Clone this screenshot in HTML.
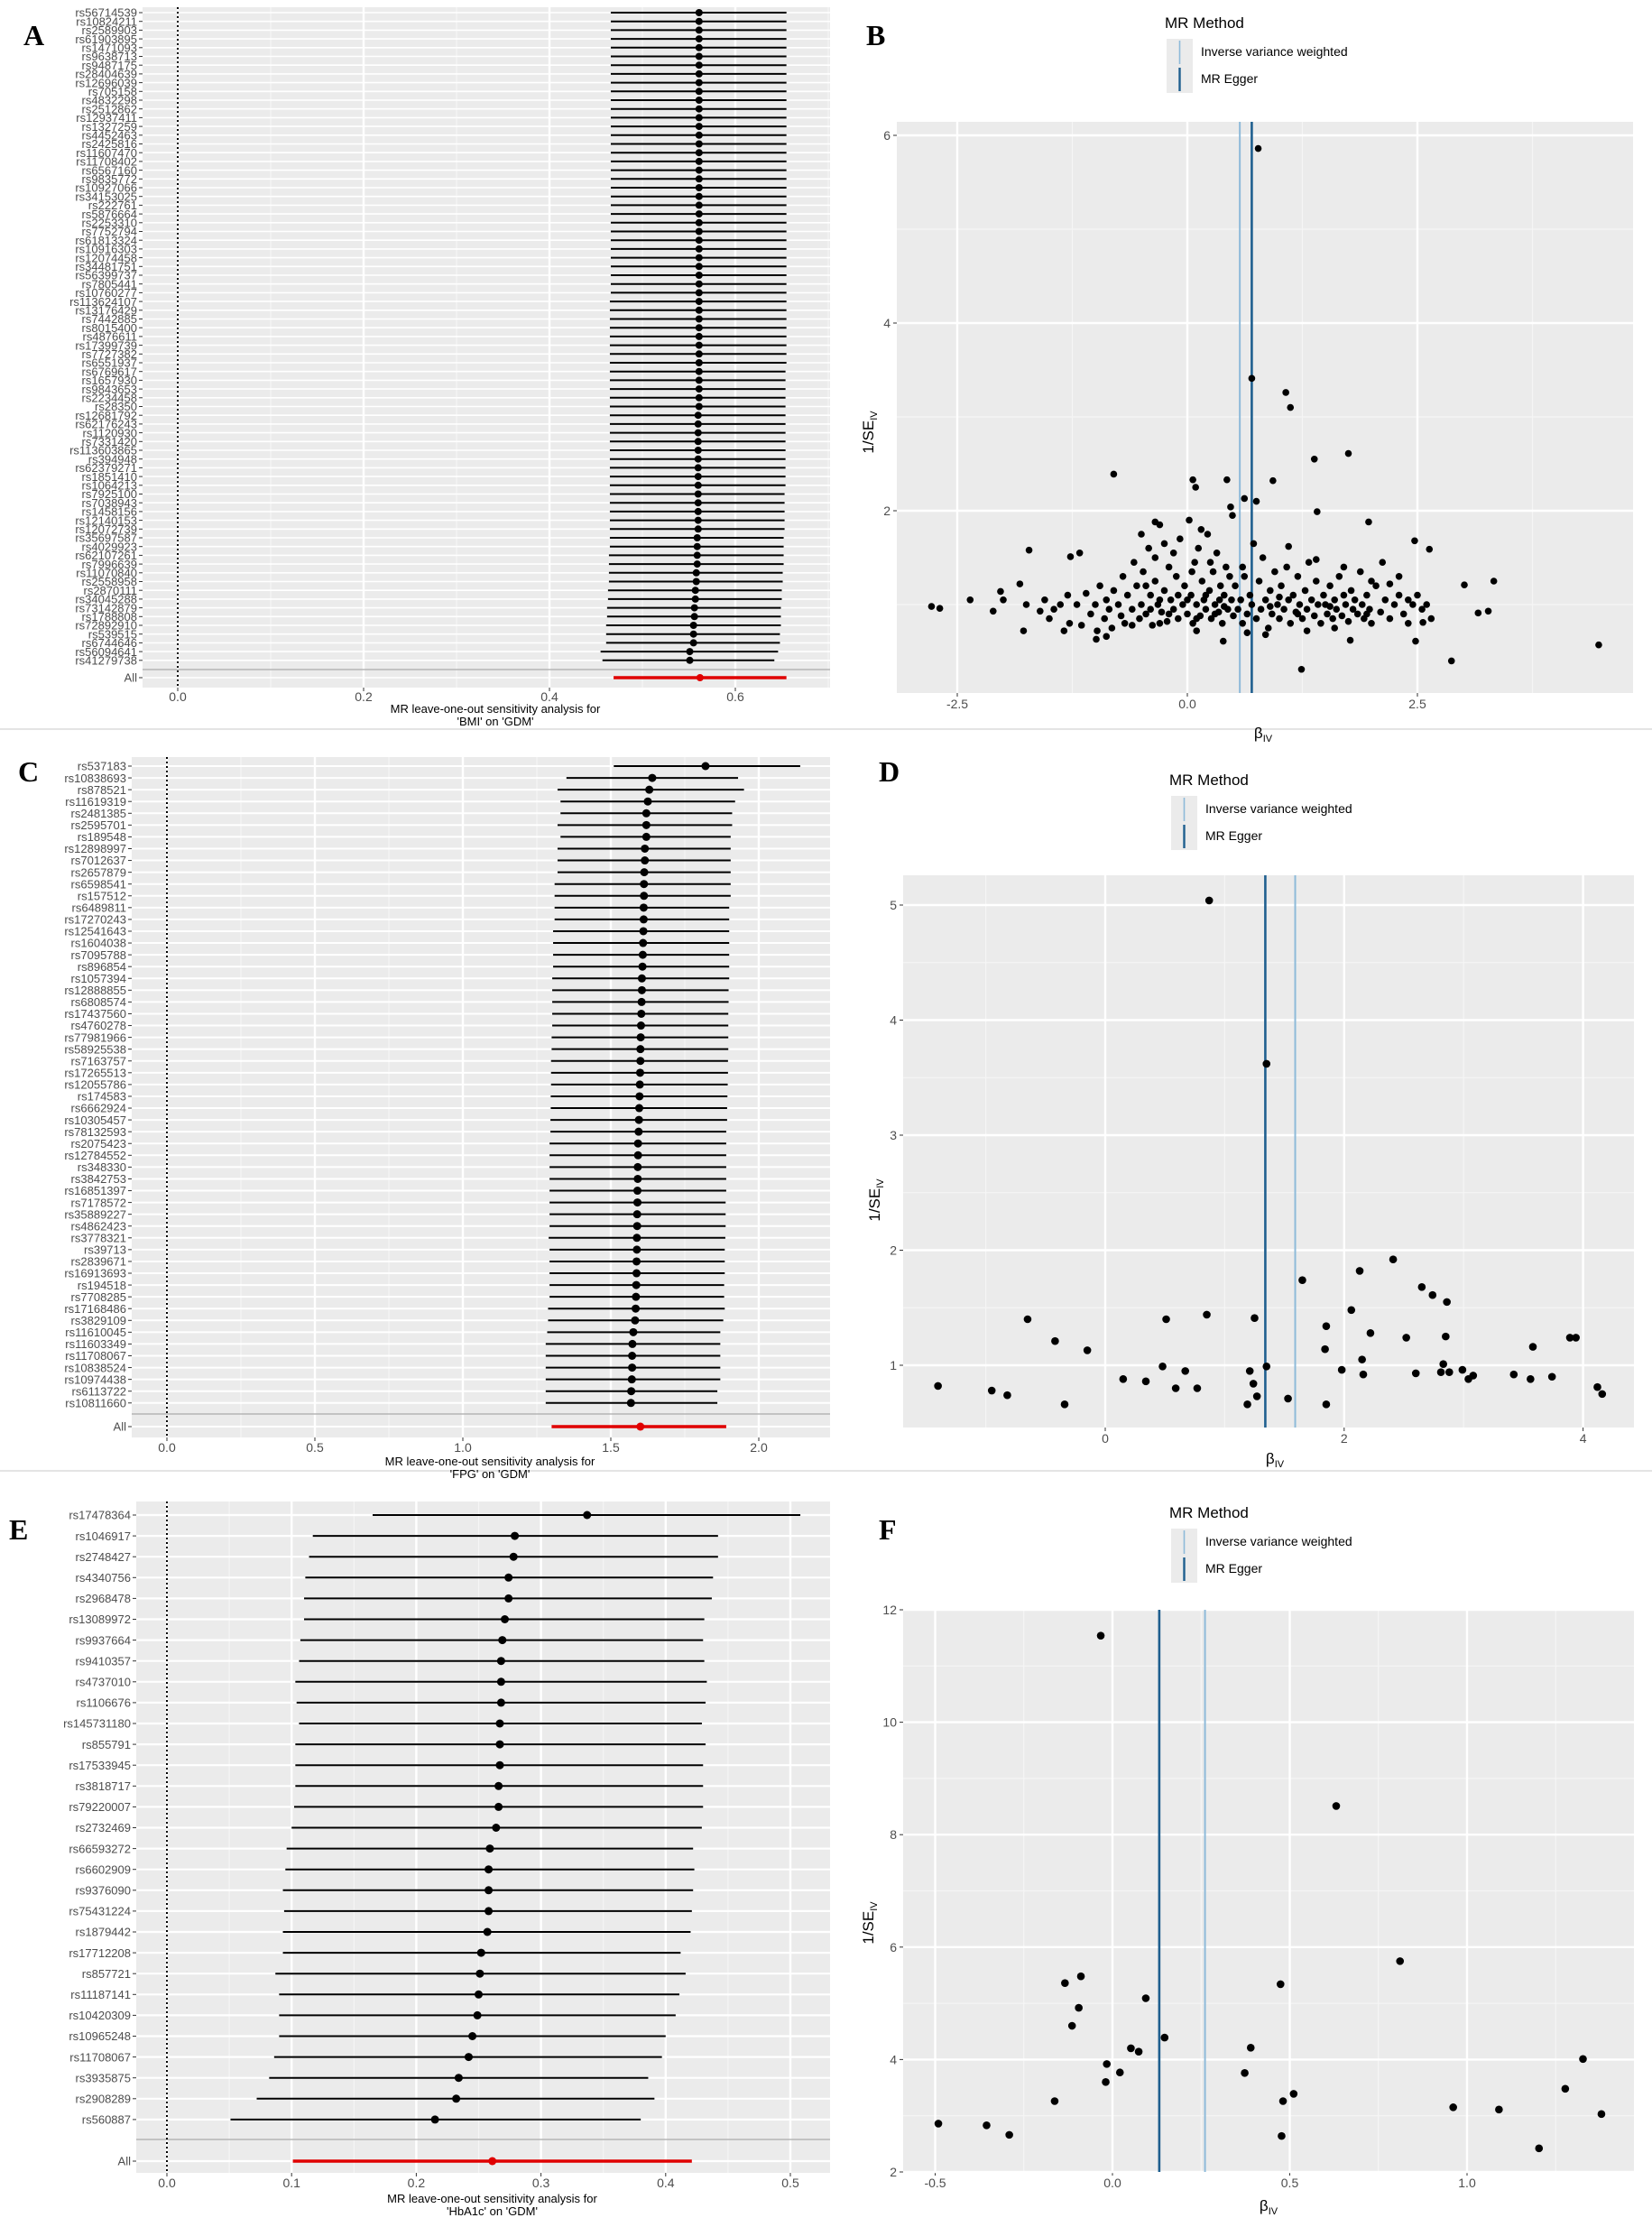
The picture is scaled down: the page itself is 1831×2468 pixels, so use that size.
<!DOCTYPE html>
<html><head><meta charset="utf-8"><style>
html,body{margin:0;padding:0;background:#fff}
svg{display:block;font-family:"Liberation Sans",Arial,sans-serif}
.pl{font-family:"Liberation Serif",serif;font-weight:bold;font-size:32px}
</style></head><body>
<svg id="fig" width="1831" height="2468" viewBox="0 0 1831 2468" xmlns="http://www.w3.org/2000/svg">
<line x1="0" y1="808" x2="1831" y2="808" stroke="#e4e4e4" stroke-width="2"/>
<line x1="0" y1="1630" x2="1831" y2="1630" stroke="#e4e4e4" stroke-width="2"/>
<text class="pl" x="26" y="50">A</text>
<text class="pl" x="960" y="50">B</text>
<text class="pl" x="20" y="866">C</text>
<text class="pl" x="974" y="866">D</text>
<text class="pl" x="10" y="1706">E</text>
<text class="pl" x="974" y="1706">F</text>
</svg>
<script>
// ---------- Panel A data ----------
const namesA = ["rs56714539","rs10824211","rs2589903","rs61903895","rs1471093","rs9638713","rs9487175","rs28404639","rs12696039","rs705158","rs4832298","rs2512862","rs12937411","rs1327259","rs4452463","rs2425816","rs11607470","rs11708402","rs6567160","rs9835772","rs10927066","rs34153025","rs222761","rs5876664","rs2253310","rs7752794","rs61813324","rs10916303","rs12074458","rs34481751","rs56399737","rs7805441","rs10760277","rs113624107","rs13176429","rs7442885","rs8015400","rs4876611","rs17399739","rs7727382","rs6551937","rs6769617","rs1657930","rs9843653","rs2234458","rs28350","rs12681792","rs62176243","rs1120930","rs7331420","rs113603865","rs394948","rs62379271","rs1851410","rs1064213","rs7925100","rs7038943","rs1458156","rs12140153","rs12072739","rs35697587","rs4029923","rs62107261","rs7996639","rs11070840","rs2558958","rs2870111","rs34045288","rs73142879","rs1788808","rs72892910","rs539515","rs6744646","rs56094641","rs41279738"];
const estA = [0.561,0.561,0.561,0.561,0.561,0.561,0.561,0.561,0.561,0.561,0.561,0.561,0.561,0.561,0.561,0.561,0.561,0.561,0.561,0.561,0.561,0.561,0.561,0.561,0.561,0.561,0.561,0.561,0.561,0.561,0.561,0.561,0.561,0.561,0.561,0.561,0.561,0.561,0.561,0.561,0.561,0.561,0.561,0.561,0.561,0.561,0.560,0.560,0.560,0.560,0.560,0.560,0.560,0.560,0.560,0.560,0.560,0.560,0.560,0.560,0.559,0.559,0.559,0.559,0.558,0.558,0.557,0.557,0.556,0.556,0.555,0.555,0.555,0.551,0.551];
const loA = [0.466,0.466,0.466,0.466,0.466,0.466,0.466,0.466,0.466,0.466,0.466,0.466,0.466,0.466,0.466,0.466,0.466,0.466,0.466,0.466,0.466,0.466,0.466,0.466,0.466,0.466,0.466,0.466,0.466,0.466,0.466,0.466,0.466,0.465,0.465,0.465,0.465,0.465,0.465,0.465,0.465,0.465,0.465,0.465,0.465,0.465,0.465,0.465,0.465,0.465,0.465,0.465,0.465,0.465,0.465,0.465,0.465,0.465,0.465,0.465,0.465,0.465,0.464,0.464,0.464,0.464,0.463,0.463,0.462,0.462,0.461,0.461,0.461,0.455,0.457];
const hiA = [0.655,0.655,0.655,0.655,0.655,0.655,0.655,0.655,0.655,0.655,0.655,0.655,0.655,0.655,0.655,0.655,0.655,0.655,0.655,0.655,0.655,0.655,0.655,0.655,0.655,0.655,0.655,0.655,0.655,0.655,0.655,0.655,0.655,0.655,0.655,0.655,0.655,0.655,0.655,0.655,0.655,0.654,0.654,0.654,0.654,0.654,0.654,0.654,0.654,0.654,0.654,0.654,0.654,0.654,0.654,0.653,0.653,0.653,0.653,0.653,0.652,0.652,0.652,0.652,0.651,0.651,0.650,0.650,0.649,0.649,0.649,0.648,0.648,0.646,0.642];
const allA = [0.562,0.469,0.655];
const ticksA = [0,0.2,0.4,0.6];
const tickLabelsA = ["0.0","0.2","0.4","0.6"];

// ---------- Panel C data ----------
const namesC = ["rs537183","rs10838693","rs878521","rs11619319","rs2481385","rs2595701","rs189548","rs12898997","rs7012637","rs2657879","rs6598541","rs157512","rs6489811","rs17270243","rs12541643","rs1604038","rs7095788","rs896854","rs1057394","rs12888855","rs6808574","rs17437560","rs4760278","rs77981966","rs58925538","rs7163757","rs17265513","rs12055786","rs174583","rs6662924","rs10305457","rs78132593","rs2075423","rs12784552","rs348330","rs3842753","rs16851397","rs7178572","rs35889227","rs4862423","rs3778321","rs39713","rs2839671","rs16913693","rs194518","rs7708285","rs17168486","rs3829109","rs11610045","rs11603349","rs11708067","rs10838524","rs10974438","rs6113722","rs10811660"];
const estC = [1.82,1.64,1.63,1.625,1.62,1.62,1.62,1.615,1.615,1.613,1.612,1.612,1.611,1.611,1.61,1.609,1.608,1.607,1.605,1.605,1.604,1.603,1.602,1.601,1.6,1.6,1.599,1.598,1.597,1.596,1.595,1.594,1.592,1.592,1.591,1.591,1.59,1.59,1.589,1.589,1.588,1.588,1.587,1.587,1.586,1.585,1.584,1.582,1.576,1.573,1.572,1.572,1.571,1.569,1.568];
const loC = [1.51,1.35,1.32,1.33,1.33,1.32,1.33,1.32,1.32,1.32,1.31,1.31,1.31,1.31,1.305,1.305,1.305,1.305,1.302,1.302,1.302,1.302,1.302,1.3,1.3,1.298,1.298,1.298,1.297,1.297,1.296,1.296,1.293,1.293,1.293,1.293,1.293,1.293,1.293,1.293,1.29,1.293,1.293,1.293,1.293,1.293,1.288,1.288,1.285,1.28,1.28,1.28,1.28,1.28,1.28];
const hiC = [2.14,1.93,1.95,1.92,1.91,1.91,1.905,1.905,1.905,1.905,1.905,1.905,1.9,1.9,1.9,1.9,1.9,1.9,1.9,1.898,1.898,1.897,1.897,1.897,1.897,1.896,1.896,1.895,1.894,1.893,1.893,1.89,1.89,1.89,1.89,1.89,1.89,1.888,1.888,1.888,1.887,1.885,1.885,1.885,1.883,1.883,1.885,1.88,1.87,1.87,1.87,1.87,1.87,1.86,1.86];
const allC = [1.60,1.30,1.89];
const ticksC = [0,0.5,1.0,1.5,2.0];
const tickLabelsC = ["0.0","0.5","1.0","1.5","2.0"];

// ---------- Panel E data ----------
const namesE = ["rs17478364","rs1046917","rs2748427","rs4340756","rs2968478","rs13089972","rs9937664","rs9410357","rs4737010","rs1106676","rs145731180","rs855791","rs17533945","rs3818717","rs79220007","rs2732469","rs66593272","rs6602909","rs9376090","rs75431224","rs1879442","rs17712208","rs857721","rs11187141","rs10420309","rs10965248","rs11708067","rs3935875","rs2908289","rs560887"];
const estE = [0.337,0.279,0.278,0.274,0.274,0.271,0.269,0.268,0.268,0.268,0.267,0.267,0.267,0.266,0.266,0.264,0.259,0.258,0.258,0.258,0.257,0.252,0.251,0.250,0.249,0.245,0.242,0.234,0.232,0.215];
const loE = [0.165,0.117,0.114,0.111,0.110,0.110,0.107,0.106,0.103,0.104,0.106,0.103,0.103,0.103,0.102,0.100,0.096,0.095,0.093,0.094,0.093,0.093,0.087,0.090,0.090,0.090,0.086,0.082,0.072,0.051];
const hiE = [0.508,0.442,0.442,0.438,0.437,0.431,0.430,0.431,0.433,0.432,0.429,0.432,0.430,0.430,0.430,0.429,0.422,0.423,0.422,0.421,0.420,0.412,0.416,0.411,0.408,0.400,0.397,0.386,0.391,0.380];
const allE = [0.261,0.101,0.421];
const ticksE = [0,0.1,0.2,0.3,0.4,0.5];
const tickLabelsE = ["0.0","0.1","0.2","0.3","0.4","0.5"];

// ---------- Panel B data (beta, 1/SE) ----------
const pointsB = [[0.77,5.86],[0.70,3.41],[1.07,3.26],[1.12,3.10],[1.75,2.61],[1.38,2.55],[-0.80,2.39],[0.06,2.33],[0.43,2.33],[0.93,2.32],[0.09,2.25],[0.62,2.13],[0.75,2.10],[0.47,2.04],[1.41,1.99],[0.49,1.95],[1.97,1.88],[-0.35,1.88],[3.01,1.21],[3.33,1.25],[2.47,1.68],[2.63,1.59],[4.47,0.57],[2.87,0.40],[1.24,0.31],[-2.78,0.98],[-2.69,0.96],[-2.36,1.05],[-2.11,0.93],[-2.03,1.14],[-1.72,1.58],[-2.0,1.05],[-1.75,1.0],[-1.82,1.22],[-1.78,0.72],[3.27,0.93],[3.16,0.91],[2.48,0.61],[2.56,0.81],[1.77,0.62],[0.39,0.61],[-0.99,0.63],[-0.88,0.66],[-1.34,0.72],[-1.60,0.93],[-1.27,1.51],[-1.17,1.55],
[-1.55,1.05],[-1.5,0.85],[-1.45,0.95],[-1.38,1.0],[-1.3,1.1],[-1.28,0.8],[-1.2,1.0],[-1.15,0.78],[-1.1,1.12],[-1.05,0.9],[-1.0,1.0],[-0.98,0.72],[-0.95,1.2],[-0.9,0.85],[-0.88,1.05],[-0.85,0.95],[-0.82,0.75],[-0.8,1.15],[-0.75,1.0],[-0.72,0.88],[-0.7,1.3],[-0.68,0.8],[-0.65,1.1],[-0.6,0.95],[-0.58,1.45],[-0.55,1.2],[-0.52,0.85],[-0.5,1.0],[-0.5,1.75],[-0.48,1.35],
[-0.45,0.9],[-0.42,1.6],[-0.4,1.1],[-0.38,0.78],[-0.35,1.25],[-0.32,1.0],[-0.3,1.85],[-0.28,0.92],[-0.25,1.15],[-0.22,0.82],[-0.2,1.4],[-0.18,1.05],[-0.15,0.95],[-0.12,1.3],[-0.1,0.85],[-0.08,1.7],[-0.05,1.0],[-0.03,1.2],[0.0,0.9],[0.02,1.9],[0.04,1.1],[0.06,0.8],[0.08,1.45],[0.1,1.0],[0.12,1.6],[0.14,0.88],[0.16,1.25],[0.18,1.05],[0.2,0.95],[0.22,1.75],[0.24,1.15],[0.26,0.85],[0.28,1.35],[0.3,1.0],[0.32,1.55],[0.34,0.92],[0.36,1.2],[0.38,0.8],[0.4,1.1],[0.42,1.4],[0.44,0.95],[0.46,1.3],[0.48,1.05],[0.5,0.88],
[-0.4,0.95],[-0.3,1.05],[-0.2,0.9],[-0.1,1.1],[0.0,1.05],[0.1,0.85],[0.2,1.1],[0.3,0.9],[0.4,0.98],[-0.35,1.5],[-0.15,1.55],[0.05,1.35],[0.25,1.45],[0.15,1.8],[-0.25,1.65],[-0.6,0.78],[-0.3,0.8],[0.1,0.72],[-0.45,1.2],[0.35,1.05],
[0.52,1.2],[0.55,0.95],[0.58,1.05],[0.6,0.8],[0.62,1.3],[0.65,0.9],[0.68,1.1],[0.7,1.0],[0.72,1.65],[0.75,0.85],[0.78,1.25],[0.8,0.95],[0.82,1.5],[0.85,1.05],[0.88,0.75],[0.9,1.15],[0.92,0.9],[0.95,1.35],[0.98,1.0],[1.0,0.85],[1.02,1.2],[1.05,0.95],[1.08,1.4],[1.1,1.05],[1.12,0.8],[1.15,1.1],[1.18,0.92],[1.2,1.3],[1.22,1.0],[1.25,0.85],[1.28,1.15],[1.3,0.95],[1.32,1.45],[1.35,1.05],[1.38,0.88],[1.4,1.25],[1.42,1.0],[1.45,0.8],[1.48,1.1],[0.6,1.4],[0.9,0.98],[1.0,1.08],[1.2,0.9],[1.4,1.48],[1.1,1.62],[0.65,0.7],[0.85,0.68],[1.3,0.72],
[1.5,1.0],[1.52,0.9],[1.55,1.2],[1.58,0.85],[1.6,1.05],[1.62,0.95],[1.65,1.3],[1.68,0.88],[1.7,1.1],[1.72,1.0],[1.75,0.82],[1.78,1.15],[1.8,0.95],[1.82,1.05],[1.85,0.9],[1.88,1.35],[1.9,1.0],[1.92,0.85],[1.95,1.1],[1.98,0.95],[2.0,0.8],[2.05,1.2],[2.1,0.92],[2.12,1.45],[2.15,1.05],[2.2,0.85],[2.25,1.0],[2.3,1.1],[2.35,0.9],[2.4,0.8],[2.45,1.0],[2.5,1.1],[2.55,0.95],[2.6,1.0],[2.65,0.85],[1.7,1.4],[2.0,1.25],[2.3,1.3],[1.6,0.75],[2.2,1.22],[1.55,0.98],[1.95,0.9],[2.4,1.05]];
const ivwB = 0.57, eggerB = 0.70;

// ---------- Panel D data ----------
const pointsD = [[0.87,5.04],[1.35,3.62],[-1.40,0.82],[-0.95,0.78],[-0.82,0.74],[-0.65,1.40],[-0.42,1.21],[-0.34,0.66],[-0.15,1.13],[0.15,0.88],[0.34,0.86],[0.48,0.99],[0.51,1.40],[0.59,0.80],[0.67,0.95],[0.77,0.80],[0.85,1.44],[1.19,0.66],[1.21,0.95],[1.24,0.84],[1.25,1.41],[1.27,0.73],[1.35,0.99],[1.53,0.71],[1.65,1.74],[1.85,1.34],[1.84,1.14],[1.85,0.66],[1.98,0.96],[2.06,1.48],[2.13,1.82],[2.15,1.05],[2.16,0.92],[2.22,1.28],[2.41,1.92],[2.52,1.24],[2.60,0.93],[2.65,1.68],[2.74,1.61],[2.81,0.94],[2.83,1.01],[2.85,1.25],[2.86,1.55],[2.88,0.94],[2.99,0.96],[3.04,0.88],[3.08,0.91],[3.42,0.92],[3.56,0.88],[3.58,1.16],[3.74,0.90],[3.89,1.24],[3.94,1.24],[4.12,0.81],[4.16,0.75]];
const ivwD = 1.59, eggerD = 1.34;

// ---------- Panel F data ----------
const pointsF = [[-0.033,11.54],[0.631,8.51],[0.811,5.75],[0.474,5.34],[-0.089,5.48],[-0.134,5.36],[0.094,5.09],[-0.095,4.92],[-0.114,4.60],[0.147,4.39],[0.052,4.20],[0.074,4.14],[0.390,4.21],[-0.016,3.92],[0.021,3.77],[0.373,3.76],[-0.019,3.60],[-0.163,3.26],[0.481,3.26],[0.511,3.39],[0.477,2.64],[-0.491,2.86],[-0.355,2.83],[-0.291,2.66],[0.961,3.15],[1.090,3.11],[1.203,2.42],[1.277,3.48],[1.327,4.01],[1.379,3.03]];
const ivwF = 0.261, eggerF = 0.132;

const NS = "http://www.w3.org/2000/svg";
const svg = document.getElementById('fig');
function mk(tag, attrs, parent){
  const e = document.createElementNS(NS, tag);
  for (const k in attrs) e.setAttribute(k, attrs[k]);
  (parent||svg).appendChild(e);
  return e;
}
const BG="#EBEBEB", GRID="#FFFFFF", MINOR="#F5F5F5", TXT="#4D4D4D";

function forest(cfg){
  const g = mk('g', {});
  
  
  const x = v => cfg.x0 + v*cfg.xs;
  const rowY = i => cfg.y0 + i*cfg.dy;
  const bg = mk('rect', {x:cfg.l, y:cfg.t, width:cfg.r-cfg.l, height:cfg.b-cfg.t, fill:BG}, g);
  
  
  // minor x grid
  for (let i=0;i<cfg.ticks.length-1;i++){
    const m = (cfg.ticks[i]+cfg.ticks[i+1])/2;
    mk('line', {x1:x(m), x2:x(m), y1:cfg.t, y2:cfg.b, stroke:MINOR, 'stroke-width':1.2}, g);
  }
  const mEnd = cfg.ticks[cfg.ticks.length-1] + (cfg.ticks[1]-cfg.ticks[0])/2;
  if (x(mEnd) < cfg.r) mk('line', {x1:x(mEnd), x2:x(mEnd), y1:cfg.t, y2:cfg.b, stroke:MINOR, 'stroke-width':1.2}, g);
  // major x grid + tick labels
  cfg.ticks.forEach((tv,i)=>{
    mk('line', {x1:x(tv), x2:x(tv), y1:cfg.t, y2:cfg.b, stroke:GRID, 'stroke-width':2.4}, g);
    mk('line', {x1:x(tv), x2:x(tv), y1:cfg.b, y2:cfg.b+4, stroke:'#333', 'stroke-width':1}, g);
    const t = mk('text', {x:x(tv), y:cfg.b+cfg.tickDy, 'font-size':cfg.tfs, fill:TXT, 'text-anchor':'middle'}, g);
    t.textContent = cfg.tickLabels[i];
    
    
  });
  // row gridlines
  const allRows = cfg.names.length;
  for (let i=0;i<allRows;i++){
    mk('line', {x1:cfg.l, x2:cfg.r, y1:rowY(i), y2:rowY(i), stroke:GRID, 'stroke-width':cfg.rowGrid}, g);
  }
  mk('line', {x1:cfg.l, x2:cfg.r, y1:cfg.allY, y2:cfg.allY, stroke:GRID, 'stroke-width':cfg.rowGrid}, g);
  mk('line', {x1:cfg.l, x2:cfg.r, y1:cfg.sepY, y2:cfg.sepY, stroke:'#B5B5B5', 'stroke-width':1.5}, g);
  // zero dotted
  mk('line', {x1:x(0), x2:x(0), y1:cfg.t, y2:cfg.b, stroke:'#000', 'stroke-width':2, 'stroke-dasharray':'2,3'}, g);
  // rows
  cfg.names.forEach((n,i)=>{
    const y = rowY(i);
    const ln = mk('line', {x1:x(cfg.lo[i]), x2:x(cfg.hi[i]), y1:y, y2:y, stroke:'#000', 'stroke-width':cfg.lw}, g);
    
    
    const c = mk('circle', {cx:x(cfg.est[i]), cy:y, r:cfg.pr, fill:'#000'}, g);
    
    
    mk('line', {x1:cfg.l-4, x2:cfg.l, y1:y, y2:y, stroke:'#333', 'stroke-width':1}, g);
    const t = mk('text', {x:cfg.l-6, y:y+cfg.lfs*0.36, 'font-size':cfg.lfs, fill:TXT, 'text-anchor':'end'}, g);
    t.textContent = n;
    
    
  });
  const al = mk('line', {x1:x(cfg.all[1]), x2:x(cfg.all[2]), y1:cfg.allY, y2:cfg.allY, stroke:'#E00000', 'stroke-width':cfg.lw+1.5}, g);
  
  
  const ac = mk('circle', {cx:x(cfg.all[0]), cy:cfg.allY, r:cfg.pr, fill:'#E00000'}, g);
  
  
  mk('line', {x1:cfg.l-4, x2:cfg.l, y1:cfg.allY, y2:cfg.allY, stroke:'#333', 'stroke-width':1}, g);
  const at = mk('text', {x:cfg.l-6, y:cfg.allY+cfg.lfs*0.36, 'font-size':cfg.lfs, fill:TXT, 'text-anchor':'end'}, g);
  at.textContent = 'All';
  
  
  cfg.title.forEach((s,k)=>{
    const t = mk('text', {x:(cfg.l+cfg.r)/2+10, y:cfg.titleY+k*14, 'font-size':13, fill:'#000', 'text-anchor':'middle'}, g);
    t.textContent = s;
    
    
  });
}

function funnel(cfg){
  const g = mk('g', {});
  
  
  const x = v => cfg.x0 + v*cfg.xs;
  const y = v => cfg.y0 - v*cfg.ys;
  const bg = mk('rect', {x:cfg.l, y:cfg.t, width:cfg.r-cfg.l, height:cfg.b-cfg.t, fill:BG}, g);
  
  
  cfg.xminor.forEach(v=>mk('line', {x1:x(v), x2:x(v), y1:cfg.t, y2:cfg.b, stroke:MINOR, 'stroke-width':1.2}, g));
  cfg.yminor.forEach(v=>mk('line', {x1:cfg.l, x2:cfg.r, y1:y(v), y2:y(v), stroke:MINOR, 'stroke-width':1.2}, g));
  cfg.xticks.forEach((v,i)=>{
    mk('line', {x1:x(v), x2:x(v), y1:cfg.t, y2:cfg.b, stroke:GRID, 'stroke-width':2.4}, g);
    mk('line', {x1:x(v), x2:x(v), y1:cfg.b, y2:cfg.b+4, stroke:'#333', 'stroke-width':1}, g);
    const t = mk('text', {x:x(v), y:cfg.b+17, 'font-size':14, fill:TXT, 'text-anchor':'middle'}, g);
    t.textContent = cfg.xlabels[i];
    
    
  });
  cfg.yticks.forEach((v,i)=>{
    mk('line', {x1:cfg.l, x2:cfg.r, y1:y(v), y2:y(v), stroke:GRID, 'stroke-width':2.4}, g);
    mk('line', {x1:cfg.l-4, x2:cfg.l, y1:y(v), y2:y(v), stroke:'#333', 'stroke-width':1}, g);
    const t = mk('text', {x:cfg.l-7, y:y(v)+5, 'font-size':14, fill:TXT, 'text-anchor':'end'}, g);
    t.textContent = cfg.ylabels[i];
    
    
  });
  const l1 = mk('line', {x1:x(cfg.ivw), x2:x(cfg.ivw), y1:cfg.t, y2:cfg.b, stroke:'#8EBAD9', 'stroke-width':2}, g);
  
  
  const l2 = mk('line', {x1:x(cfg.egger), x2:x(cfg.egger), y1:cfg.t, y2:cfg.b, stroke:'#1F5F8F', 'stroke-width':2.6}, g);
  
  
  cfg.points.forEach(p=>{
    const c = mk('circle', {cx:x(p[0]), cy:y(p[1]), r:cfg.pr, fill:'#000'}, g);
    
    
  });
  // axis titles
  const xt = mk('text', {x:cfg.xtX, y:cfg.xtY, 'font-size':17, fill:'#000', 'text-anchor':'middle'}, g);
  
  
  xt.innerHTML = 'β<tspan font-size="11" dy="4">IV</tspan>';
  const yt = mk('text', {x:0, y:0, 'font-size':17, fill:'#000', 'text-anchor':'middle', transform:`translate(${cfg.ytX},${cfg.ytY}) rotate(-90)`}, g);
  
  
  yt.innerHTML = '1/SE<tspan font-size="11" dy="4">IV</tspan>';
  // legend
  const lg = mk('g', {}, g);
  
  
  const tt = mk('text', {x:cfg.lgX-2, y:cfg.lgY, 'font-size':17, fill:'#000'}, lg);
  tt.textContent = 'MR Method';
  
  
  const bx = cfg.lgX, by = cfg.lgY+12;
  mk('rect', {x:bx, y:by, width:29, height:60, fill:BG}, lg);
  mk('line', {x1:bx+14.5, x2:bx+14.5, y1:by+2, y2:by+28, stroke:'#8EBAD9', 'stroke-width':1.6}, lg);
  mk('line', {x1:bx+14.5, x2:bx+14.5, y1:by+32, y2:by+58, stroke:'#1F5F8F', 'stroke-width':2.4}, lg);
  const e1 = mk('text', {x:bx+38, y:by+19, 'font-size':14, fill:'#000'}, lg);
  e1.textContent = 'Inverse variance weighted';
  
  
  const e2 = mk('text', {x:bx+38, y:by+49, 'font-size':14, fill:'#000'}, lg);
  e2.textContent = 'MR Egger';
  
  
}

forest({name:'panel-a-forest', l:158, r:920, t:8, b:762, x0:197, xs:1030, y0:14, dy:9.7, sepY:742, allY:751,
  names:namesA, est:estA, lo:loA, hi:hiA, all:allA, ticks:ticksA, tickLabels:tickLabelsA,
  tickDy:15, tfs:14, lfs:13, lw:2, pr:4, rowGrid:1.6, titleY:790, title:["MR leave-one-out sensitivity analysis for","'BMI' on 'GDM'"]});
forest({name:'panel-c-forest', l:146, r:920, t:839, b:1593, x0:185, xs:328, y0:849, dy:13.07, sepY:1567, allY:1581,
  names:namesC, est:estC, lo:loC, hi:hiC, all:allC, ticks:ticksC, tickLabels:tickLabelsC,
  tickDy:16, tfs:14, lfs:13, lw:2, pr:4.5, rowGrid:2, titleY:1624, title:["MR leave-one-out sensitivity analysis for","'FPG' on 'GDM'"]});
forest({name:'panel-e-forest', l:151, r:920, t:1664, b:2408, x0:185, xs:1382, y0:1679, dy:23.1, sepY:2371, allY:2395,
  names:namesE, est:estE, lo:loE, hi:hiE, all:allE, ticks:ticksE, tickLabels:tickLabelsE,
  tickDy:16, tfs:14, lfs:13, lw:2, pr:4.5, rowGrid:2.2, titleY:2441, title:["MR leave-one-out sensitivity analysis for","'HbA1c' on 'GDM'"]});

funnel({name:'panel-b-funnel', l:994, r:1810, t:135, b:768, x0:1316, xs:102, y0:774, ys:104,
  xticks:[-2.5,0,2.5], xlabels:["-2.5","0.0","2.5"], xminor:[-1.25,1.25,3.75],
  yticks:[2,4,6], ylabels:["2","4","6"], yminor:[1,3,5],
  ivw:ivwB, egger:eggerB, points:pointsB, pr:3.8,
  xtX:1400, xtY:818, ytX:968, ytY:479, lgX:1293, lgY:31});
funnel({name:'panel-d-funnel', l:1001, r:1811, t:970, b:1582, x0:1225, xs:132.4, y0:1640.5, ys:127.5,
  xticks:[0,2,4], xlabels:["0","2","4"], xminor:[-1,1,3],
  yticks:[1,2,3,4,5], ylabels:["1","2","3","4","5"], yminor:[1.5,2.5,3.5,4.5],
  ivw:ivwD, egger:eggerD, points:pointsD, pr:4.3,
  xtX:1413, xtY:1622, ytX:975, ytY:1330, lgX:1298, lgY:870});
funnel({name:'panel-f-funnel', l:1001, r:1811, t:1784, b:2407, x0:1233, xs:393, y0:2531.6, ys:62.3,
  xticks:[-0.5,0,0.5,1.0], xlabels:["-0.5","0.0","0.5","1.0"], xminor:[-0.25,0.25,0.75,1.25],
  yticks:[2,4,6,8,10,12], ylabels:["2","4","6","8","10","12"], yminor:[3,5,7,9,11],
  ivw:ivwF, egger:eggerF, points:pointsF, pr:4.3,
  xtX:1406, xtY:2450, ytX:968, ytY:2131, lgX:1298, lgY:1682});

// move panel labels on top
['A','B','C','D','E','F'].forEach(()=>{});
document.querySelectorAll('.pl').forEach(el=>svg.appendChild(el));
</script>
</body></html>
